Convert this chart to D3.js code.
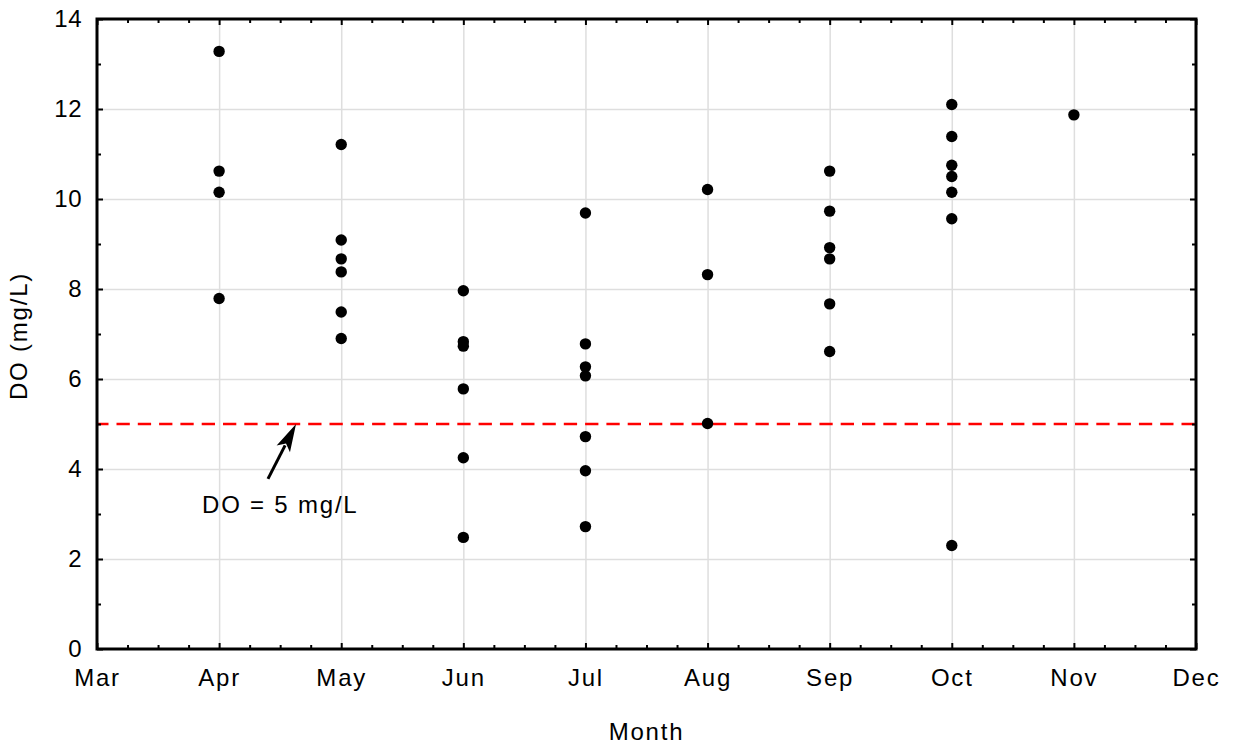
<!DOCTYPE html>
<html>
<head>
<meta charset="utf-8">
<script src="https://cdn.jsdelivr.net/npm/d3@7"></script>
<style>
  html, body { margin: 0; padding: 0; background: #fff; }
  svg { display: block; font-family: "Liberation Sans", Arial, sans-serif; }
</style>
</head>
<body>
<svg id="chart" width="1234" height="747"></svg>
<script>
// month labels on the x axis (Mar = 3 ... Dec = 12)
const monthLabels = ["Mar", "Apr", "May", "Jun", "Jul", "Aug", "Sep", "Oct", "Nov", "Dec"];
const monthValues = [3, 4, 5, 6, 7, 8, 9, 10, 11, 12];
const yTicks = [0, 2, 4, 6, 8, 10, 12, 14];

// DO readings per sampling month
const aprDO = [13.28, 10.62, 10.15, 7.79];
const mayDO = [11.21, 9.09, 8.67, 8.38, 7.49, 6.9];
const junDO = [7.96, 6.83, 6.73, 5.78, 4.25, 2.48];
const julDO = [9.69, 6.78, 6.27, 6.07, 4.72, 3.96, 2.72];
const augDO = [10.21, 8.32, 5.01];
const sepDO = [10.62, 9.73, 8.92, 8.67, 7.67, 6.61];
const octDO = [12.1, 11.39, 10.75, 10.5, 10.15, 9.56, 2.3];
const novDO = [11.87];

const threshold = 5;

const points = [
  [4, aprDO], [5, mayDO], [6, junDO], [7, julDO],
  [8, augDO], [9, sepDO], [10, octDO], [11, novDO]
].flatMap(([m, vals]) => vals.map((v) => ({ month: m, value: v })));

const svg = d3.select("#chart");
const plotLeft = 97, plotRight = 1196, plotTop = 19, plotBottom = 649;

const x = d3.scaleLinear().domain([3, 12]).range([plotLeft, plotRight]);
const y = d3.scaleLinear().domain([0, 14]).range([plotBottom, plotTop]);

const font = "Liberation Sans, Arial, sans-serif";

// grid
svg.append("g")
  .attr("transform", `translate(0,${plotBottom})`)
  .call(d3.axisBottom(x).tickValues(monthValues.slice(1, -1)).tickSize(-(plotBottom - plotTop)).tickFormat(""))
  .call((g) => g.select(".domain").remove())
  .call((g) => g.selectAll("line").attr("stroke", "#dedede").attr("stroke-width", 1.5));
svg.append("g")
  .attr("transform", `translate(${plotLeft},0)`)
  .call(d3.axisLeft(y).tickValues(yTicks.slice(1, -1)).tickSize(-(plotRight - plotLeft)).tickFormat(""))
  .call((g) => g.select(".domain").remove())
  .call((g) => g.selectAll("line").attr("stroke", "#dedede").attr("stroke-width", 1.5));

// threshold line
svg.append("line")
  .attr("x1", x(3)).attr("x2", x(12))
  .attr("y1", y(threshold)).attr("y2", y(threshold))
  .attr("stroke", "#ff0000")
  .attr("stroke-width", 2.6)
  .attr("stroke-dasharray", "13.3,8")
  .attr("stroke-dashoffset", -19.5);

// points
svg.append("g")
  .selectAll("circle")
  .data(points)
  .join("circle")
  .attr("cx", (d) => x(d.month))
  .attr("cy", (d) => y(d.value))
  .attr("r", 5.7)
  .attr("fill", "#000");

// ticks: inward on all four sides
const xMinor = d3.range(3, 12.001, 0.25).filter((v) => Math.abs(v - Math.round(v)) > 0.01);
const yMinor = d3.range(1, 14, 2);

function styleTicks(g) {
  g.select(".domain").remove();
  g.selectAll("line").attr("stroke", "#000").attr("stroke-width", 2);
}

svg.append("g")
  .attr("transform", `translate(0,${plotBottom})`)
  .call(d3.axisBottom(x).tickValues(monthValues).tickSize(-6).tickPadding(20)
    .tickFormat((d, i) => monthLabels[i]))
  .call(styleTicks)
  .call((g) => g.selectAll("text")
    .attr("font-family", font).attr("font-size", 24)
    .attr("letter-spacing", 1.8).attr("fill", "#000"));
svg.append("g")
  .attr("transform", `translate(0,${plotBottom})`)
  .call(d3.axisBottom(x).tickValues(xMinor).tickSize(-4).tickFormat(""))
  .call(styleTicks);
svg.append("g")
  .attr("transform", `translate(0,${plotTop})`)
  .call(d3.axisTop(x).tickValues(monthValues).tickSize(-6).tickFormat(""))
  .call(styleTicks);
svg.append("g")
  .attr("transform", `translate(0,${plotTop})`)
  .call(d3.axisTop(x).tickValues(xMinor).tickSize(-4).tickFormat(""))
  .call(styleTicks);

svg.append("g")
  .attr("transform", `translate(${plotLeft},0)`)
  .call(d3.axisLeft(y).tickValues(yTicks).tickSize(-6).tickPadding(15))
  .call(styleTicks)
  .call((g) => g.selectAll("text")
    .attr("font-family", font).attr("font-size", 24)
    .attr("letter-spacing", 0.5).attr("fill", "#000"));
svg.append("g")
  .attr("transform", `translate(${plotLeft},0)`)
  .call(d3.axisLeft(y).tickValues(yMinor).tickSize(-4).tickFormat(""))
  .call(styleTicks);
svg.append("g")
  .attr("transform", `translate(${plotRight},0)`)
  .call(d3.axisRight(y).tickValues(yTicks).tickSize(-6).tickFormat(""))
  .call(styleTicks);
svg.append("g")
  .attr("transform", `translate(${plotRight},0)`)
  .call(d3.axisRight(y).tickValues(yMinor).tickSize(-4).tickFormat(""))
  .call(styleTicks);

// frame
svg.append("rect")
  .attr("x", plotLeft).attr("y", plotTop)
  .attr("width", plotRight - plotLeft).attr("height", plotBottom - plotTop)
  .attr("fill", "none")
  .attr("stroke", "#000")
  .attr("stroke-width", 3);

// axis titles
svg.append("text")
  .attr("x", (plotLeft + plotRight) / 2)
  .attr("y", 740)
  .attr("text-anchor", "middle")
  .attr("font-family", font).attr("font-size", 24)
  .attr("letter-spacing", 1.8)
  .text("Month");

svg.append("text")
  .attr("transform", `translate(27,${(plotTop + plotBottom) / 2 + 2}) rotate(-90)`)
  .attr("text-anchor", "middle")
  .attr("font-family", font).attr("font-size", 24)
  .attr("letter-spacing", 1.8)
  .text("DO (mg/L)");

// annotation arrow
const tip = [x(4.63), y(5.0)];
const tail = [x(4.40), y(3.78)];
const dx = tip[0] - tail[0], dy = tip[1] - tail[1];
const len = Math.hypot(dx, dy);
const ux = dx / len, uy = dy / len;
const headLen = 28, headHalf = 7.5;
const base = [tip[0] - ux * headLen, tip[1] - uy * headLen];

svg.append("line")
  .attr("x1", tail[0]).attr("y1", tail[1])
  .attr("x2", base[0] + ux * 4).attr("y2", base[1] + uy * 4)
  .attr("stroke", "#000")
  .attr("stroke-width", 3);
svg.append("path")
  .attr("d", d3.line()([
    tip,
    [base[0] - uy * headHalf, base[1] + ux * headHalf],
    [base[0] + ux * 6, base[1] + uy * 6],
    [base[0] + uy * headHalf, base[1] - ux * headHalf]
  ]) + "Z")
  .attr("fill", "#000");

svg.append("text")
  .attr("x", x(3.86))
  .attr("y", y(3.02))
  .attr("font-family", font).attr("font-size", 24)
  .attr("letter-spacing", 1.8)
  .text("DO = 5 mg/L");
</script>
</body>
</html>
